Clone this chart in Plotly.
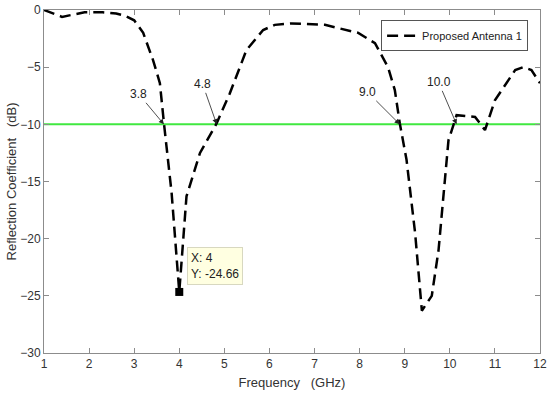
import plotly.graph_objects as go

freq = [1.0, 1.4, 1.9, 2.3, 2.6, 2.8, 3.0, 3.2, 3.42, 3.57, 3.66, 3.83, 4.0,
        4.16, 4.46, 4.83, 5.12, 5.49, 5.86, 6.12, 6.49, 7.23, 7.97, 8.34, 8.63,
        8.78, 8.89, 9.04, 9.23, 9.38, 9.6, 9.75, 9.97, 10.15, 10.56, 10.78,
        11.0, 11.45, 11.63, 11.81, 12.0]
s11 = [0.0, -0.6, -0.2, -0.2, -0.3, -0.5, -0.9, -2.0, -4.4, -6.4, -9.9, -16.0, -24.66,
       -16.3, -12.5, -9.9, -7.3, -3.5, -1.75, -1.3, -1.17, -1.3, -2.0, -2.9, -5.0,
       -7.0, -9.9, -13.1, -19.5, -26.3, -25.0, -21.0, -11.4, -9.2, -9.35, -10.5,
       -7.9, -5.25, -5.0, -5.25, -6.4]
threshold = -10
series_name = "Proposed Antenna 1"
tip_x, tip_y = 4, -24.66
marks = [("3.8", 3.66), ("4.8", 4.83), ("9.0", 8.89), ("10.0", 10.15)]
text_offsets = [(-25, -30), (-14, -40), (-32, -32), (-18, -42)]

fig = go.Figure()
fig.add_trace(go.Scatter(x=[1, 12], y=[threshold, threshold], mode="lines",
                         line=dict(color="#40e840", width=2), showlegend=False,
                         hoverinfo="skip"))
fig.add_trace(go.Scatter(x=freq, y=s11, mode="lines", name=series_name,
                         line=dict(color="black", width=2.5, dash="11px,6px")))
fig.add_trace(go.Scatter(x=[tip_x], y=[tip_y], mode="markers", showlegend=False,
                         marker=dict(symbol="square", size=8, color="black")))

for (lab, xv), (dx, dy) in zip(marks, text_offsets):
    fig.add_annotation(x=xv, y=threshold, ax=dx, ay=dy, text=lab, showarrow=True,
                       arrowhead=2, arrowsize=1.3, arrowwidth=0.8, arrowcolor="#222",
                       font=dict(size=12, color="#222"), standoff=0)

fig.add_annotation(x=tip_x, y=tip_y, xref="x", yref="y", xanchor="left", yanchor="bottom",
                   xshift=8, yshift=7, showarrow=False, align="left",
                   text=f"X: {tip_x}<br>Y: {tip_y}",
                   bgcolor="#ffffe1", bordercolor="#d8d8c0", borderwidth=1, borderpad=3,
                   font=dict(size=12, color="#222"))

axis_common = dict(showline=True, linecolor="#8c8c8c", linewidth=1, mirror="ticks",
                   ticks="inside", ticklen=5, tickcolor="#8c8c8c", showgrid=False,
                   zeroline=False, automargin=False, tickfont=dict(size=12, color="#333"))
fig.update_xaxes(range=[1, 12], dtick=1, title=dict(text="Frequency   (GHz)",
                 font=dict(size=13, color="#333"), standoff=7), **axis_common)
fig.update_yaxes(range=[-30, 0], dtick=5, title=dict(text="Reflection Coefficient   (dB)",
                 font=dict(size=13, color="#333"), standoff=0), **axis_common)

fig.update_layout(width=550, height=395, margin=dict(l=44, r=10, t=10, b=42, autoexpand=False),
                  plot_bgcolor="white", paper_bgcolor="white",
                  font=dict(family="Arial, Liberation Sans, sans-serif"),
                  legend=dict(x=0.976, y=0.97, xanchor="right", yanchor="top",
                              bgcolor="white", bordercolor="#555", borderwidth=1,
                              font=dict(size=11, color="#222"), itemwidth=30,
                              tracegroupgap=0))
fig.write_html("out.html", post_script="document.body.style.margin='0px';",
               config={"displayModeBar": False})
